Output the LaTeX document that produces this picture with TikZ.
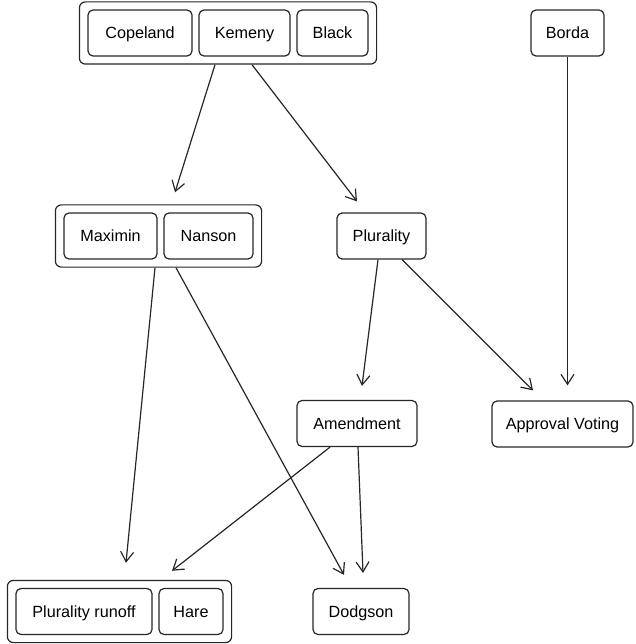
\documentclass[tikz,border=0pt]{standalone}
\usepackage{fontspec}
\setmainfont{Liberation Sans}
\usetikzlibrary{arrows.meta,fit,calc}
\begin{document}
\begin{tikzpicture}[x=1pt,y=-1pt,
  box/.style={draw=black!85, line width=1.2pt, rounded corners=5pt,
    minimum height=46pt, inner sep=0pt, text height=14pt, text depth=2.4pt,
    font=\fontsize{16.2}{19}\selectfont},
  grp/.style={draw=black!85, line width=1.2pt, rounded corners=6pt,
    inner xsep=8pt, inner ysep=7.5pt},
  edge/.style={draw=black!85, line width=1.2pt,
    -{Straight Barb[length=10pt,width=13pt,line width=1.2pt]}}]
\useasboundingbox (0,0) rectangle (635,644);

% top row
\node[box, minimum width=104pt] (cop) at (140,33) {Copeland};
\node[box, minimum width=91pt]  (kem) at (244.5,33) {Kemeny};
\node[box, minimum width=71pt]  (blk) at (332.5,33) {Black};
\node[grp, fit=(cop)(blk)] (top) {};
\node[box, minimum width=73pt]  (bor) at (567.5,33) {Borda};

% second row
\node[box, minimum width=93pt] (mmx) at (110.5,236) {Maximin};
\node[box, minimum width=89pt] (nan) at (208.5,236) {Nanson};
\node[grp, fit=(mmx)(nan)] (mmg) {};
\node[box, minimum width=89pt] (plu) at (381.5,236) {Plurality};

% third row
\node[box, minimum width=120pt] (amd) at (357,423.5) {Amendment};
\node[box, minimum width=141pt] (apv) at (562.5,424) {Approval Voting};

% bottom row
\node[box, minimum width=136pt] (pro) at (84,611.5) {Plurality runoff};
\node[box, minimum width=64pt]  (har) at (191,611.5) {Hare};
\node[grp, fit=(pro)(har)] (bot) {};
\node[box, minimum width=96pt]  (dod) at (361,611.5) {Dodgson};

% connectors
\draw[edge] ([xshift=-13pt]top.south) -- ($(mmg.north)+(16.5,-12)$);
\draw[edge] ([xshift=24pt]top.south) -- ($(plu.north)+(-24.5,-11)$);
\draw[edge] (bor.south) -- ($(bor.south |- apv.north)+(0,-15)$);
\draw[edge] ([xshift=-3.5pt]plu.south) -- ($(amd.north)+(5,-14)$);
\draw[edge] ([xshift=20.5pt]plu.south) -- ($(apv.north)+(-29.5,-10)$);
\draw[edge] ([xshift=-3.5pt]mmg.south) -- ($(bot.north)+(6.5,-17)$);
\draw[edge] ([xshift=17.5pt]mmg.south) -- ($(dod.north)+(-17,-13)$);
\draw[edge] ([xshift=-27pt]amd.south) -- ($(bot.north)+(52.5,-9)$);
\draw[edge] ([xshift=1pt]amd.south) -- ($(dod.north)+(2,-15)$);
\end{tikzpicture}
\end{document}
